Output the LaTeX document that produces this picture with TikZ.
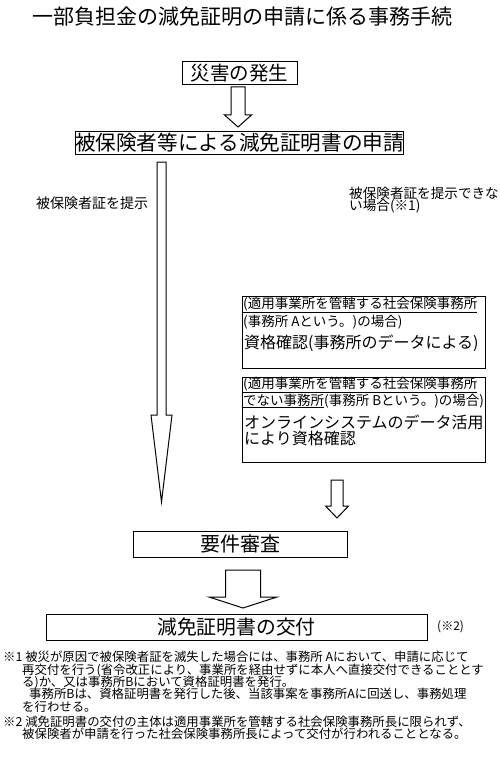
\documentclass[tikz,border=0pt]{standalone}
\usepackage{fontspec}
\setmainfont{Noto Sans CJK JP}
\newcommand{\fs}[1]{\fontsize{#1}{#1}\selectfont}
\newcommand{\hollowarrow}[7]{% name, cx, top, shaftbottom, tip, shafthalf, headhalf
  \draw[line width=1pt, fill=white]
    (#2-#6,#3) coordinate (#1-top) -- (#2+#6,#3) -- (#2+#6,#4) -- (#2+#7,#4)
    -- (#2,#5) coordinate (#1-tip) -- (#2-#7,#4) -- (#2-#6,#4) -- cycle;}
\begin{document}
\begin{tikzpicture}[x=1pt,y=-1pt,
  box/.style={draw, line width=1pt, inner sep=0pt, minimum width=#1},
  lbl/.style={anchor=west, inner sep=0pt, align=left},
  note/.style={anchor=west, inner sep=0pt, font=\fs{12.4}}]
\useasboundingbox (0,0) rectangle (500,773);

\node[inner sep=0pt, font=\fs{21}] (title) at (242,17) {一部負担金の減免証明の申請に係る事務手続};

\node[box=115pt, minimum height=23pt, font=\fs{19.5}] (b1) at (239.5,73.5) {災害の発生};
\node[box=321pt, minimum height=23pt, font=\fs{20.6}] (b2) at (239.5,142.5) {被保険者等による減免証明書の申請};

\hollowarrow{a1}{238}{87}{115}{127}{7}{13.5}

\node[lbl, font=\fs{14}] (lshow) at (36,203) {被保険者証を提示};
\node[lbl, font=\fs{13.6}] (rshow1) at (349,193) {被保険者証を提示できな};
\node[lbl, font=\fs{13.6}] (rshow2) at (349,206) {い場合(※1)};

\hollowarrow{a2}{161.5}{162}{415}{502}{4.5}{10.5}

% office A box
\node[box=243pt, minimum height=72pt] (bA) at (363.5,332) {};
\node[lbl, font=\fs{13.5}] (bA1) at (243,305) {\underline{(適用事業所を管轄する社会保険事務所}};
\node[lbl, font=\fs{13.5}] (bA2) at (243,322) {(事務所 Aという。)の場合)};
\node[lbl, font=\fs{16}] (bA3) at (244,343) {資格確認(事務所のデータによる)};

% office B box
\node[box=243pt, minimum height=85pt] (bB) at (363.5,419.5) {};
\node[lbl, font=\fs{13.5}] (bB1) at (243,385) {\underline{(適用事業所を管轄する社会保険事務所}};
\node[lbl, font=\fs{13.5}] (bB2) at (243,401) {\underline{でない事務所}(事務所 Bという。)の場合)};
\node[lbl, font=\fs{16}] (bB3) at (244,422) {オンラインシステムのデータ活用};
\node[lbl, font=\fs{16}] (bB4) at (244,438) {により資格確認};

\hollowarrow{a3}{337}{480}{506}{518}{6}{11.5}

\node[box=214pt, minimum height=26pt, font=\fs{20}] (b3) at (240,544) {要件審査};

\hollowarrow{a4}{243}{570}{597}{608}{17.5}{34}

\node[box=381pt, minimum height=26pt, font=\fs{19.8}] (b4) at (236.5,627) {減免証明書の交付};
\node[lbl, font=\fs{12}] (n2ref) at (437,627) {(※2)};

\node[note] (n1a) at (3,657) {※1 被災が原因で被保険者証を滅失した場合には、事務所 Aにおいて、申請に応じて};
\node[note] (n1b) at (22,670) {再交付を行う(省令改正により、事業所を経由せずに本人へ直接交付できることとす};
\node[note] (n1c) at (22,682) {る)か、又は事務所Bにおいて資格証明書を発行。};
\node[note] (n1d) at (29,694) {事務所Bは、資格証明書を発行した後、当該事案を事務所Aに回送し、事務処理};
\node[note] (n1e) at (22,707) {を行わせる。};
\node[note] (n2a) at (3,722) {※2 減免証明書の交付の主体は適用事業所を管轄する社会保険事務所長に限られず、};
\node[note] (n2b) at (22,734) {被保険者が申請を行った社会保険事務所長によって交付が行われることとなる。};
\end{tikzpicture}
\end{document}
